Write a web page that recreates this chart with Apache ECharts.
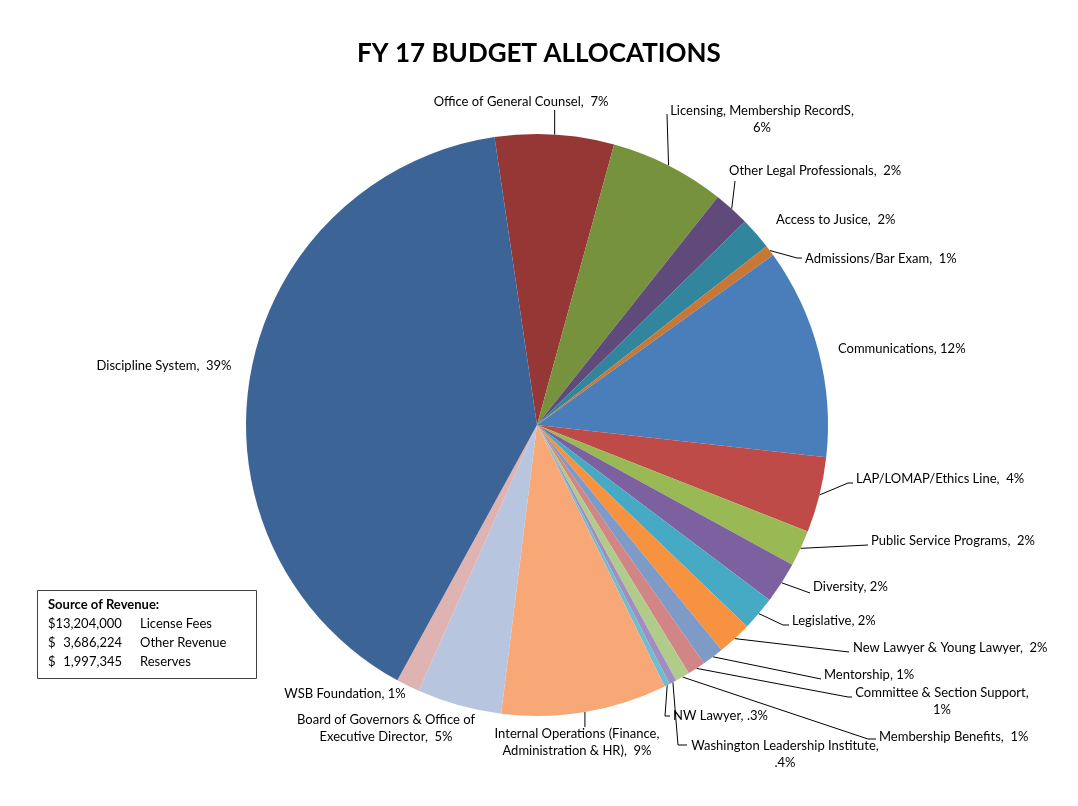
<!DOCTYPE html>
<html>
<head>
<meta charset="utf-8">
<script src="https://cdn.jsdelivr.net/npm/echarts@6/dist/echarts.min.js"></script>
<style>
html,body{margin:0;padding:0;background:#fff;}
#chart{width:1078px;height:806px;}
</style>
</head>
<body>
<div id="chart"></div>
<script>
// ---- data ----
var categories = [
  'Office of General Counsel', 'Licensing, Membership RecordS', 'Other Legal Professionals',
  'Access to Jusice', 'Admissions/Bar Exam', 'Communications', 'LAP/LOMAP/Ethics Line',
  'Public Service Programs', 'Diversity', 'Legislative', 'New Lawyer & Young Lawyer',
  'Mentorship', 'Committee & Section Support', 'Membership Benefits',
  'Washington Leadership Institute', 'NW Lawyer',
  'Internal Operations (Finance, Administration & HR)',
  'Board of Governors & Office of Executive Director', 'WSB Foundation', 'Discipline System'
];
var shares = [6.6, 6.4, 2.0, 1.8, 0.6, 11.7, 4.2, 2.0, 2.3, 1.9, 1.9, 1.2, 1.0, 0.8, 0.4, 0.3, 9.2, 4.7, 1.3, 39.7];
var pctLabels = ['7%', '6%', '2%', '2%', '1%', '12%', '4%', '2%', '2%', '2%', '2%', '1%', '1%', '1%', '.4%', '.3%', '9%', '5%', '1%', '39%'];
var revenueAmounts = ['13,204,000', '3,686,224', '1,997,345'];
var revenueSources = ['License Fees', 'Other Revenue', 'Reserves'];

// ---- styling / layout (not data) ----
var colors = ['#953735', '#76923C', '#604A7B', '#31859C', '#C97734', '#4A7EBB', '#BE4B48',
  '#98B954', '#7D60A0', '#46AAC5', '#F69240', '#7E9BC8', '#D18584', '#B1CB8A', '#A08EC0',
  '#6FBDD1', '#F8A877', '#B7C5DF', '#DFB3B2', '#3C6496'];
var labelFmt = [
  {sep: ',  '}, {sep: ',\n'}, {sep: ',  '}, {sep: ',  '}, {sep: ',  '}, {sep: ', '},
  {sep: ',  '}, {sep: ',  '}, {sep: ', '}, {sep: ', '}, {sep: ',  '}, {sep: ', '},
  {sep: ',\n'}, {sep: ',  '}, {sep: ',\n'}, {sep: ', '},
  {sep: ',  ', brk: 'Finance, '}, {sep: ',  ', brk: 'Office of '}, {sep: ', '}, {sep: ',  '}
];
var labelPos = [
  {x: 521, y: 102, a: 'center', line: [[0, 110, 'vx']]},
  {x: 762, y: 119, a: 'center', line: [[667, 114]]},
  {x: 729, y: 171, a: 'left', line: [[735, 181]]},
  {x: 776, y: 220, a: 'left'},
  {x: 805, y: 259, a: 'left', line: [[797, 258], [802, 258]]},
  {x: 838, y: 349, a: 'left'},
  {x: 856, y: 479, a: 'left', line: [[848, 483], [853, 483]]},
  {x: 871, y: 541, a: 'left', line: [[868, 545]]},
  {x: 813, y: 587, a: 'left', line: [[810, 593]]},
  {x: 792, y: 621, a: 'left', line: [[783, 625], [789, 625]]},
  {x: 853, y: 648, a: 'left', line: [[849, 652]]},
  {x: 824, y: 675, a: 'left', line: [[821, 679]]},
  {x: 942, y: 701, a: 'center', line: [[848, 697], [852, 697]]},
  {x: 879, y: 737, a: 'left', line: [[868, 739], [876, 739]]},
  {x: 785, y: 754, a: 'center', line: [[678, 745], [687, 745]]},
  {x: 673, y: 716, a: 'left', line: [[665, 716], [670, 716]]},
  {x: 577, y: 742, a: 'center', line: [[0, 727, 'vx']]},
  {x: 386, y: 728, a: 'center'},
  {x: 345, y: 694, a: 'center'},
  {x: 164, y: 366, a: 'center'}
];

var seriesData = categories.map(function (c, i) {
  var f = labelFmt[i];
  var name = f.brk ? c.replace(f.brk, f.brk.trim() + '\n') : c;
  return {
    name: c,
    value: shares[i],
    itemStyle: {color: colors[i]},
    labelText: name + f.sep + pctLabels[i],
    labelLine: {show: !!labelPos[i].line}
  };
});

var chart = echarts.init(document.getElementById('chart'), null, {renderer: 'canvas'});
var FONT = 'Lato';
var boxFont = {fontFamily: FONT, fontSize: 13, fill: '#000', verticalAlign: 'middle'};
function bf(extra) { var o = {}; for (var k in boxFont) o[k] = boxFont[k]; for (var k2 in extra) o[k2] = extra[k2]; return o; }

var graphicEls = [
  {type: 'rect', shape: {x: 37.5, y: 590.5, width: 219, height: 88},
   style: {fill: '#fff', stroke: '#404040', lineWidth: 1}},
  {type: 'text', x: 48, y: 605, style: bf({text: 'Source of Revenue:', fontWeight: 'bold'})}
];
revenueAmounts.forEach(function (amt, i) {
  var y = 624 + i * 19;
  if (i === 0) {
    graphicEls.push({type: 'text', x: 48, y: y, style: bf({text: '$' + amt})});
  } else {
    graphicEls.push({type: 'text', x: 48, y: y, style: bf({text: '$'})});
    graphicEls.push({type: 'text', x: 122, y: y, style: bf({text: amt, align: 'right'})});
  }
  graphicEls.push({type: 'text', x: 140, y: y, style: bf({text: revenueSources[i]})});
});

chart.setOption({
  animation: false,
  backgroundColor: '#fff',
  title: {
    text: 'FY 17 BUDGET ALLOCATIONS',
    left: 'center', top: 36,
    textStyle: {fontFamily: FONT, fontWeight: 'bold', fontSize: 26, color: '#000'}
  },
  graphic: graphicEls,
  series: [{
    type: 'pie',
    center: [537, 425],
    radius: 291,
    startAngle: 98.4,
    clockwise: true,
    avoidLabelOverlap: false,
    itemStyle: {borderWidth: 0},
    emphasis: {disabled: true},
    label: {
      show: true,
      position: 'outside',
      fontFamily: FONT,
      fontSize: 13,
      color: '#000',
      lineHeight: 17,
      formatter: function (p) { return p.data.labelText; }
    },
    labelLine: {show: true, lineStyle: {color: '#000', width: 1}},
    labelLayout: function (p) {
      var lp = labelPos[p.dataIndex];
      var res = {x: lp.x, y: lp.y, align: lp.a, verticalAlign: 'middle'};
      if (lp.line && p.labelLinePoints) {
        var start = p.labelLinePoints[0];
        var pts = [[start[0], start[1]]];
        lp.line.forEach(function (q) {
          if (q[2] === 'vx') pts.push([start[0], q[1]]);
          else pts.push([q[0], q[1]]);
        });
        while (pts.length < 3) pts.push(pts[pts.length - 1].slice());
        res.labelLinePoints = pts;
      }
      return res;
    },
    data: seriesData
  }]
});
</script>
</body>
</html>
